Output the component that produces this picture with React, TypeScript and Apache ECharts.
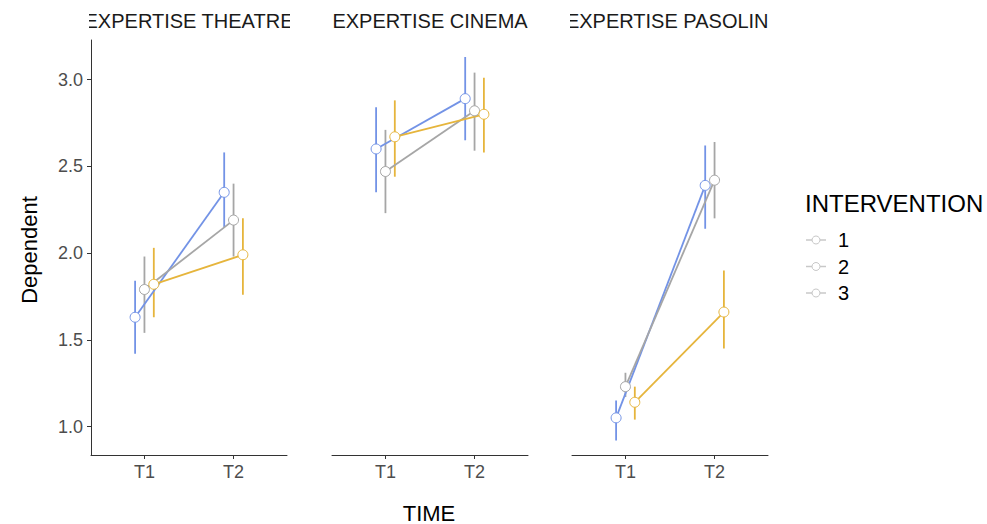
import React, { useEffect, useRef } from "react";
import * as echarts from "echarts";

// ---- data ----
const categories = ["T1", "T2"];
const panels = ["EXPERTISE THEATRE", "EXPERTISE CINEMA", "EXPERTISE PASOLINI"];
const groups = ["1", "2", "3"];
const yTicks = [1.0, 1.5, 2.0, 2.5, 3.0];

// per panel [T1, T2]
const mean1 = [[1.63, 2.35], [2.6, 2.89], [1.05, 2.39]];
const low1 = [[1.42, 2.15], [2.35, 2.65], [0.92, 2.14]];
const high1 = [[1.84, 2.58], [2.84, 3.13], [1.15, 2.62]];

const mean2 = [[1.79, 2.19], [2.47, 2.82], [1.23, 2.42]];
const low2 = [[1.54, 1.98], [2.23, 2.59], [1.17, 2.2]];
const high2 = [[1.98, 2.4], [2.71, 3.04], [1.31, 2.64]];

const mean3 = [[1.82, 1.99], [2.67, 2.8], [1.14, 1.66]];
const low3 = [[1.63, 1.76], [2.44, 2.58], [1.04, 1.45]];
const high3 = [[2.03, 2.2], [2.88, 3.01], [1.23, 1.9]];

const means = [mean1, mean2, mean3];
const lows = [low1, low2, low3];
const highs = [high1, high2, high3];

const colors = ["#7393e6", "#a6a6a6", "#e6b53c"];
const dodge = [-0.105, 0, 0.105];

const FONT = "'Liberation Sans', Arial, Helvetica, sans-serif";

const gridLefts = [91, 332, 572];
const gridWidth = 196;
const gridTop = 40;
const gridHeight = 415;

export default function App() {
  const ref = useRef<HTMLDivElement>(null);

  useEffect(() => {
    if (!ref.current) return;
    const chart = echarts.init(ref.current, undefined, { renderer: "svg" });

    const grids = gridLefts.map((l) => ({
      left: l,
      top: gridTop,
      width: gridWidth,
      height: gridHeight,
      containLabel: false,
    }));

    const xAxes = panels.map((_, i) => ({
      type: "value",
      gridIndex: i,
      min: 0.4,
      max: 2.6,
      axisLine: { show: true, onZero: false, lineStyle: { color: "#333333", width: 1 } },
      axisTick: { show: true, length: 4, customValues: [1, 2], lineStyle: { color: "#333333" } },
      axisLabel: {
        show: true,
        customValues: [1, 2],
        formatter: (v: number) => categories[Math.round(v) - 1] ?? "",
        color: "#4d4d4d",
        fontSize: 18,
        fontFamily: FONT,
        margin: 8,
      },
      splitLine: { show: false },
    }));

    const yAxes = panels.map((_, i) => ({
      type: "value",
      gridIndex: i,
      min: 0.836,
      max: 3.228,
      axisLine: { show: i === 0, onZero: false, lineStyle: { color: "#333333", width: 1 } },
      axisTick: { show: i === 0, length: 4, customValues: yTicks, lineStyle: { color: "#333333" } },
      axisLabel: {
        show: i === 0,
        customValues: yTicks,
        formatter: (v: number) => v.toFixed(1),
        color: "#4d4d4d",
        fontSize: 18,
        fontFamily: FONT,
        margin: 8,
      },
      splitLine: { show: false },
    }));

    const series: any[] = [];
    panels.forEach((_, p) => {
      groups.forEach((g, k) => {
        const errData = categories.map((_, t) => [t + 1 + dodge[k], lows[k][p][t], highs[k][p][t]]);
        series.push({
          type: "custom",
          name: g,
          xAxisIndex: p,
          yAxisIndex: p,
          z: 2,
          encode: { x: 0, y: [1, 2] },
          data: errData,
          renderItem: (params: any, api: any) => {
            const x = api.value(0);
            const a = api.coord([x, api.value(1)]);
            const b = api.coord([x, api.value(2)]);
            return {
              type: "line",
              shape: { x1: a[0], y1: a[1], x2: b[0], y2: b[1] },
              style: { stroke: colors[k], lineWidth: 1.8 },
            };
          },
        });
      });
      groups.forEach((g, k) => {
        series.push({
          type: "line",
          name: g,
          xAxisIndex: p,
          yAxisIndex: p,
          z: 3,
          data: categories.map((_, t) => [t + 1 + dodge[k], means[k][p][t]]),
          symbol: "circle",
          symbolSize: 10,
          showSymbol: true,
          lineStyle: { color: colors[k], width: 1.8 },
          itemStyle: { color: "#ffffff", borderColor: colors[k], borderWidth: 1, opacity: 1 },
        });
      });
    });

    const graphic: any[] = [];
    panels.forEach((name, i) => {
      graphic.push({
        type: "text",
        x: gridLefts[i] + gridWidth / 2,
        y: 21,
        z: 10,
        style: {
          text: name,
          fill: "#1a1a1a",
          fontSize: 20,
          fontFamily: FONT,
          align: "center",
          verticalAlign: "middle",
        },
      });
    });
    // strip clipping masks
    const maskXs = [
      [0, gridLefts[0] - 2],
      [gridLefts[0] + gridWidth + 3, gridLefts[1] - 1],
      [gridLefts[1] + gridWidth + 1, gridLefts[2] - 2],
      [gridLefts[2] + gridWidth, 987],
    ];
    maskXs.forEach(([a, b]) => {
      graphic.push({
        type: "rect",
        z: 20,
        shape: { x: a, y: 0, width: b - a, height: 38 },
        style: { fill: "#ffffff" },
      });
    });
    // axis titles
    graphic.push({
      type: "text",
      x: 29,
      y: 250,
      rotation: Math.PI / 2,
      z: 10,
      style: { text: "Dependent", fill: "#000000", fontSize: 22, fontFamily: FONT, align: "center", verticalAlign: "middle" },
    });
    graphic.push({
      type: "text",
      x: 429,
      y: 513,
      z: 10,
      style: { text: "TIME", fill: "#000000", fontSize: 22, fontFamily: FONT, align: "center", verticalAlign: "middle" },
    });
    // legend
    graphic.push({
      type: "text",
      x: 805,
      y: 203,
      z: 10,
      style: { text: "INTERVENTION", fill: "#000000", fontSize: 24, fontFamily: FONT, align: "left", verticalAlign: "middle" },
    });
    groups.forEach((g, k) => {
      const cy = 240 + k * 26.5;
      graphic.push({
        type: "line",
        z: 10,
        shape: { x1: 806, y1: cy, x2: 826, y2: cy },
        style: { stroke: "#c8c8c8", lineWidth: 1.5 },
      });
      graphic.push({
        type: "circle",
        z: 11,
        shape: { cx: 816, cy, r: 4 },
        style: { fill: "#ffffff", stroke: "#c8c8c8", lineWidth: 1 },
      });
      graphic.push({
        type: "text",
        x: 838,
        y: cy,
        z: 10,
        style: { text: g, fill: "#000000", fontSize: 20, fontFamily: FONT, align: "left", verticalAlign: "middle" },
      });
    });

    chart.setOption({
      animation: false,
      backgroundColor: "#ffffff",
      grid: grids,
      xAxis: xAxes,
      yAxis: yAxes,
      series,
      graphic,
    });

    return () => chart.dispose();
  }, []);

  return <div ref={ref} style={{ width: 987, height: 524, position: "absolute", left: 0, top: 0 }} />;
}
